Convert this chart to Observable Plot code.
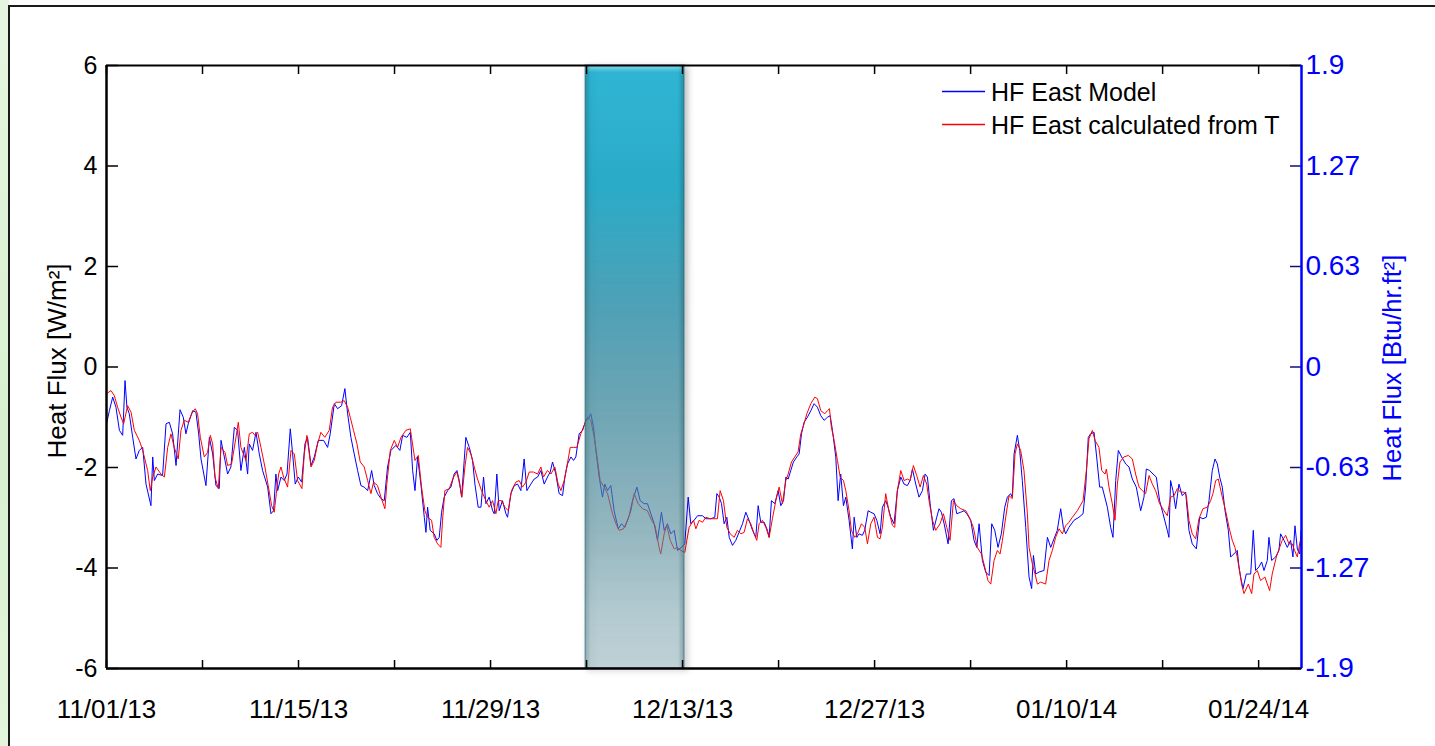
<!DOCTYPE html>
<html>
<head>
<meta charset="utf-8">
<script src="https://cdn.jsdelivr.net/npm/d3@7"></script>
<script src="https://cdn.jsdelivr.net/npm/@observablehq/plot@0.6"></script>
<style>
  html, body { margin: 0; padding: 0; width: 1435px; height: 746px; overflow: hidden; background: #fbfdfa; }
  #bg { position: absolute; left: 0; top: 0; width: 9px; height: 746px; background: linear-gradient(to bottom, #e6f5e0, #d8f0cf 60%, #e3f5dc); }
  #frame { position: absolute; left: 8px; top: 5px; width: 1450px; height: 770px; border-left: 2px solid #1a1a1a; border-top: 2px solid #1a1a1a; background: #ffffff; }
  #chart { position: absolute; left: 0; top: 0; }
</style>
</head>
<body>
<div id="bg"></div>
<div id="frame"></div>
<div id="chart"></div>
<script>
// ---------- data ----------
const seriesNames = ["HF East Model", "HF East calculated from T"];
const seriesColors = ["#0000ff", "#ff0000"];

// [days since 11/01/13, heat flux W/m2]
const modelPoints = [
  [0,-1.13],[0.21,-0.87],[0.45,-0.60],[0.69,-0.80],[0.94,-1.26],[1.18,-1.36],[1.35,-0.27],[1.49,-0.80],[1.66,-0.93],[1.91,-1.40],[2.15,-1.83],[2.39,-1.66],[2.64,-1.60],[2.88,-2.33],[3.24,-2.76],[3.37,-1.79],[3.49,-2.26],[3.73,-2.13],[4.09,-2.16],[4.34,-1.13],[4.58,-1.10],[4.82,-1.33],[5.07,-1.96],[5.36,-0.85],[5.60,-1.00],[5.79,-1.33],[5.96,-1.13],[6.28,-0.87],[6.52,-0.90],[6.72,-1.33],[6.89,-1.83],[7.25,-2.36],[7.50,-1.40],[7.74,-1.73],[7.98,-2.36],[8.22,-2.42],[8.35,-1.46],[8.64,-1.86],[8.83,-2.13],[9.07,-1.99],[9.32,-1.20],[9.56,-1.26],[9.80,-2.06],[10.05,-1.60],[10.29,-2.13],[10.41,-1.53],[10.65,-1.66],[10.90,-1.30],[11.14,-1.73],[11.38,-2.06],[11.75,-2.39],[11.99,-2.92],[12.18,-2.86],[12.35,-2.13],[12.48,-2.46],[12.72,-2.19],[12.96,-2.26],[13.16,-2.13],[13.40,-1.23],[13.57,-1.73],[13.76,-2.33],[13.98,-2.19],[14.23,-2.29],[14.47,-1.53],[14.66,-1.40],[14.91,-1.96],[15.15,-1.79],[15.44,-1.46],[15.83,-1.46],[16.12,-1.60],[16.31,-1.33],[16.61,-0.73],[16.85,-0.83],[17.14,-0.77],[17.38,-0.43],[17.58,-0.93],[17.82,-1.40],[18.06,-1.73],[18.31,-2.06],[18.55,-2.36],[18.79,-2.39],[19.04,-2.46],[19.33,-2.06],[19.52,-2.36],[19.76,-2.52],[20.01,-2.62],[20.25,-2.66],[20.49,-1.99],[20.74,-1.66],[21.10,-1.56],[21.39,-1.66],[21.59,-1.36],[21.90,-1.40],[22.15,-1.30],
  [22.32,-2.06],[22.49,-2.46],[22.68,-1.79],[22.92,-2.33],[23.17,-2.99],[23.29,-3.29],[23.41,-2.79],[23.60,-3.25],[23.89,-3.32],[24.09,-3.45],[24.26,-3.39],[24.43,-2.89],[24.62,-2.59],[24.87,-2.46],[25.11,-2.39],[25.35,-2.13],[25.55,-2.06],[25.72,-2.26],[25.89,-2.59],[26.08,-1.86],[26.20,-1.40],[26.45,-1.60],[26.69,-1.86],[26.86,-2.33],[27.10,-2.79],[27.30,-2.79],[27.49,-2.19],[27.66,-2.72],[27.90,-2.59],[28.15,-2.86],[28.27,-2.92],[28.46,-2.13],[28.63,-2.86],[28.87,-2.66],[29.12,-2.92],[29.24,-2.99],[29.48,-2.52],[29.73,-2.36],[29.97,-2.33],[30.21,-2.46],[30.45,-1.83],[30.65,-2.46],[30.94,-2.33],[31.18,-2.23],[31.43,-2.19],[31.67,-2.06],[31.91,-2.33],[32.15,-2.19],[32.35,-2.09],[32.52,-1.89],[32.76,-2.13],[33.00,-2.52],[33.25,-2.56],[33.42,-2.19],[33.61,-1.93],[33.86,-1.79],[34.05,-1.86],[34.22,-1.79],[34.46,-1.33],[34.71,-1.26],[34.95,-1.06],[35.12,-1.03],[35.31,-0.93],[35.51,-1.20],[35.68,-1.66],[35.92,-2.19],[36.16,-2.59],[36.33,-2.33],[36.53,-2.46],[36.77,-2.36],[37.01,-2.86],[37.31,-3.22],[37.55,-3.12],[37.79,-3.19],[38.11,-2.96],[38.35,-2.66],[38.67,-2.39],[38.91,-2.66],[39.20,-2.72],[39.44,-2.72],[39.69,-2.92],[39.93,-3.12],[40.17,-3.45],[40.46,-2.89],[40.66,-3.25],[40.90,-3.12],[41.14,-3.32],[41.39,-3.25],[41.63,-3.65],[41.92,-3.59],[42.16,-3.52],[42.41,-2.59],[42.60,-3.12],[42.84,-3.05],[43.09,-2.96],[43.45,-2.96],[43.70,-3.02],[44.06,-3.02],[44.35,-2.99],
  [44.50,-2.52],[44.67,-2.59],[44.84,-2.72],[45.03,-3.12],[45.23,-2.99],[45.40,-3.39],[45.64,-3.55],[45.88,-3.45],[46.12,-3.29],[46.37,-3.12],[46.61,-2.89],[46.85,-3.05],[47.10,-3.25],[47.34,-3.39],[47.51,-2.76],[47.70,-3.09],[47.95,-3.09],[48.19,-3.25],[48.31,-3.39],[48.48,-2.66],[48.72,-2.72],[48.97,-2.46],[49.16,-2.76],[49.36,-2.66],[49.53,-2.19],[49.70,-2.23],[49.89,-2.06],[50.08,-1.89],[50.33,-1.79],[50.50,-1.73],[50.67,-1.33],[50.86,-1.10],[51.10,-1.00],[51.35,-0.87],[51.59,-0.73],[51.83,-0.80],[52.08,-0.97],[52.32,-1.06],[52.56,-1.00],[52.76,-0.97],[52.93,-1.26],[53.17,-1.79],[53.34,-2.66],[53.53,-2.13],[53.73,-2.76],[53.90,-2.59],[54.14,-3.05],[54.38,-3.62],[54.51,-2.99],[54.70,-3.39],[54.87,-3.32],[55.11,-3.35],[55.28,-3.25],[55.53,-2.86],[55.72,-2.89],[55.96,-2.92],[56.16,-3.05],[56.40,-3.32],[56.57,-2.79],[56.81,-2.66],[56.98,-2.79],[57.18,-2.99],[57.42,-3.12],[57.66,-2.46],[57.91,-2.19],[58.15,-2.33],[58.39,-2.36],[58.59,-2.26],[58.76,-2.03],[59.00,-2.33],[59.24,-2.59],[59.49,-2.46],[59.68,-2.13],[59.85,-2.19],[60.05,-2.72],[60.29,-3.25],[60.53,-2.99],[60.70,-2.82],[60.87,-2.89],[61.07,-3.12],[61.36,-3.52],[61.60,-2.66],[61.79,-2.62],[61.99,-2.92],[62.28,-2.89],[62.52,-2.86],[62.72,-2.92],[63.01,-3.05],[63.25,-3.45],[63.45,-3.59],[63.62,-3.12],[63.86,-3.85],[64.10,-4.08],[64.35,-4.15],[64.54,-3.12],[64.76,-3.25],[65.00,-3.59],[65.24,-3.32],[65.49,-2.79],[65.68,-2.59],[65.92,-2.52],
  [66.04,-2.59],[66.17,-1.73],[66.41,-1.36],[66.58,-1.66],[66.77,-2.26],[67.02,-3.19],[67.26,-4.18],[67.45,-4.41],[67.58,-3.75],[67.75,-4.12],[67.99,-4.08],[68.35,-4.05],[68.60,-3.39],[68.84,-3.59],[69.08,-3.42],[69.32,-3.25],[69.57,-2.82],[69.76,-3.19],[69.93,-3.32],[70.17,-3.19],[70.54,-3.05],[70.90,-2.99],[71.20,-2.92],[71.39,-2.39],[71.58,-1.40],[71.75,-1.33],[72.00,-1.30],[72.19,-1.79],[72.41,-2.39],[72.60,-2.39],[72.97,-2.79],[73.21,-3.19],[73.38,-3.39],[73.58,-2.26],[73.77,-1.66],[74.01,-1.79],[74.31,-1.93],[74.55,-1.99],[74.79,-2.23],[75.08,-2.39],[75.40,-2.86],[75.64,-2.59],[75.81,-2.03],[76.05,-2.06],[76.30,-2.13],[76.54,-2.19],[76.78,-2.66],[77.03,-2.92],[77.34,-3.25],[77.46,-3.39],[77.58,-2.26],[77.75,-2.46],[77.95,-2.82],[78.19,-2.33],[78.43,-2.56],[78.68,-2.49],[78.92,-3.25],[79.16,-3.52],[79.46,-3.62],[79.70,-2.99],[79.94,-3.02],[80.19,-2.99],[80.38,-2.66],[80.62,-2.06],[80.82,-1.83],[80.99,-1.93],[81.16,-2.19],[81.35,-2.39],[81.55,-2.86],[81.79,-3.25],[81.96,-3.78],[82.20,-3.72],[82.44,-3.65],[82.57,-3.98],[82.69,-4.18],[82.86,-4.41],[83.10,-4.12],[83.42,-4.12],[83.61,-3.25],[83.78,-4.05],[84.02,-3.98],[84.22,-3.88],[84.39,-4.05],[84.63,-3.85],[84.75,-3.39],[84.95,-3.85],[85.24,-3.78],[85.48,-3.65],[85.60,-3.32],[85.85,-3.45],[86.09,-3.59],[86.33,-3.45],[86.50,-3.78],[86.65,-3.16],[86.82,-3.62],[86.99,-3.72],[87.10,-3.25]
];

const calcPoints = [
  [0,-0.53],[0.33,-0.47],[0.57,-0.57],[0.81,-0.80],[1.06,-1.00],[1.25,-1.13],[1.54,-0.77],[1.79,-0.90],[2.03,-1.26],[2.39,-1.46],[2.64,-1.66],[3.00,-2.06],[3.19,-2.46],[3.37,-2.19],[3.61,-1.99],[3.97,-2.13],[4.22,-2.19],[4.46,-1.60],[4.70,-1.33],[4.94,-1.60],[5.23,-1.83],[5.43,-1.26],[5.67,-1.06],[5.96,-1.10],[6.21,-0.93],[6.47,-0.83],[6.64,-0.93],[6.84,-1.40],[7.13,-1.79],[7.37,-1.70],[7.57,-1.36],[7.74,-1.53],[7.91,-2.19],[8.15,-2.42],[8.35,-1.60],[8.64,-1.70],[8.83,-1.96],[9.12,-1.93],[9.44,-1.40],[9.61,-1.10],[9.80,-1.60],[10.17,-1.86],[10.41,-1.33],[10.65,-1.30],[10.82,-1.36],[11.02,-1.30],[11.26,-1.60],[11.55,-1.99],[11.79,-2.36],[12.04,-2.76],[12.23,-2.89],[12.38,-2.52],[12.55,-2.13],[12.72,-1.99],[12.91,-2.19],[13.20,-2.39],[13.45,-1.66],[13.69,-1.73],[13.93,-2.26],[14.25,-2.42],[14.42,-1.73],[14.61,-1.36],[14.91,-1.99],[15.15,-1.86],[15.39,-1.53],[15.63,-1.30],[15.92,-1.40],[16.24,-1.26],[16.48,-0.80],[16.73,-0.70],[17.09,-0.70],[17.33,-0.67],[17.58,-0.80],[17.77,-1.00],[18.01,-1.26],[18.26,-1.53],[18.50,-1.89],[18.79,-1.99],[19.04,-2.26],[19.28,-2.52],[19.47,-2.29],[19.76,-2.36],[20.01,-2.59],[20.30,-2.82],[20.44,-2.32],[20.69,-1.66],[20.98,-1.46],[21.22,-1.60],[21.47,-1.40],[21.83,-1.26],[22.15,-1.23],
  [22.24,-1.40],[22.49,-1.86],[22.73,-1.76],[22.97,-2.39],[23.21,-2.86],[23.41,-2.99],[23.70,-3.05],[23.89,-3.39],[24.14,-3.52],[24.38,-3.59],[24.50,-3.05],[24.67,-2.46],[24.99,-2.42],[25.30,-2.19],[25.55,-2.09],[25.79,-2.39],[25.91,-2.59],[26.13,-1.99],[26.32,-1.60],[26.57,-1.73],[26.81,-1.99],[27.05,-2.23],[27.34,-2.46],[27.66,-2.66],[27.90,-2.79],[28.15,-2.66],[28.39,-2.92],[28.56,-2.66],[28.80,-2.66],[29.05,-2.79],[29.29,-2.86],[29.53,-2.46],[29.85,-2.29],[30.09,-2.26],[30.33,-2.39],[30.58,-2.29],[30.82,-2.09],[31.13,-2.09],[31.43,-2.13],[31.67,-1.99],[31.86,-2.19],[32.15,-2.06],[32.40,-2.13],[32.69,-1.99],[32.93,-2.33],[33.13,-2.46],[33.37,-2.26],[33.56,-1.99],[33.81,-1.60],[34.05,-1.60],[34.29,-1.60],[34.58,-1.33],[34.83,-1.16],[35.07,-1.00],[35.31,-1.06],[35.56,-1.40],[35.80,-1.86],[35.99,-2.26],[36.28,-2.39],[36.53,-2.52],[36.89,-2.92],[37.14,-3.12],[37.38,-3.25],[37.69,-3.22],[37.99,-3.05],[38.23,-2.86],[38.47,-2.52],[38.76,-2.72],[39.08,-2.82],[39.44,-2.86],[39.74,-3.05],[39.98,-3.15],[40.29,-3.59],[40.41,-3.72],[40.66,-3.32],[40.85,-3.15],[41.10,-3.45],[41.39,-3.62],[41.63,-3.59],[41.87,-3.65],[42.16,-3.69],[42.31,-3.45],[42.48,-3.19],[42.80,-3.05],[42.97,-3.22],[43.21,-3.05],[43.45,-3.09],[43.70,-2.99],[44.01,-3.02],
  [44.54,-3.02],[44.74,-2.46],[44.98,-2.66],[45.23,-3.19],[45.47,-3.32],[45.76,-3.39],[46.00,-3.25],[46.25,-3.32],[46.49,-3.29],[46.73,-3.02],[46.97,-3.12],[47.22,-3.32],[47.41,-3.45],[47.58,-3.12],[47.82,-3.05],[48.07,-3.19],[48.31,-3.39],[48.55,-3.02],[48.80,-2.66],[49.04,-2.39],[49.28,-2.72],[49.53,-2.26],[49.70,-2.13],[49.94,-1.89],[50.18,-1.79],[50.42,-1.69],[50.62,-1.33],[50.86,-1.13],[51.06,-0.93],[51.35,-0.73],[51.64,-0.60],[51.83,-0.63],[52.08,-0.87],[52.37,-0.93],[52.56,-0.87],[52.71,-0.83],[52.85,-1.20],[53.05,-1.46],[53.29,-1.86],[53.49,-2.19],[53.73,-2.26],[53.90,-2.46],[54.14,-2.86],[54.31,-3.25],[54.55,-3.39],[54.75,-3.32],[55.04,-3.12],[55.28,-3.19],[55.48,-3.52],[55.72,-3.12],[55.96,-2.99],[56.21,-3.39],[56.40,-3.42],[56.57,-3.19],[56.81,-2.52],[57.06,-2.89],[57.30,-3.15],[57.47,-3.19],[57.66,-2.46],[57.91,-2.06],[58.15,-2.26],[58.39,-2.23],[58.59,-2.26],[58.83,-1.96],[59.07,-2.16],[59.32,-2.39],[59.56,-2.16],[59.80,-2.33],[59.97,-2.66],[60.22,-3.05],[60.46,-3.25],[60.77,-3.12],[61.02,-2.92],[61.26,-3.19],[61.50,-3.45],[61.75,-2.66],[61.99,-2.76],[62.28,-2.82],[62.65,-2.86],[62.96,-3.02],[63.20,-3.19],[63.49,-3.59],[63.79,-3.72],[64.03,-3.98],[64.27,-4.25],[64.47,-4.32],[64.71,-3.85],[64.95,-3.65],[65.15,-3.72],[65.32,-3.45],[65.56,-2.99],[65.80,-2.56],
  [66.04,-2.62],[66.24,-1.73],[66.41,-1.53],[66.65,-1.66],[66.89,-2.06],[67.14,-2.92],[67.26,-3.59],[67.50,-3.92],[67.70,-4.12],[67.87,-4.32],[68.11,-4.28],[68.47,-4.32],[68.72,-3.85],[68.96,-3.65],[69.20,-3.39],[69.45,-3.22],[69.69,-3.32],[69.93,-3.16],[70.17,-3.09],[70.42,-2.99],[70.78,-2.86],[71.20,-2.66],[71.44,-2.06],[71.63,-1.43],[71.88,-1.26],[72.07,-1.46],[72.36,-1.60],[72.56,-2.06],[72.80,-2.13],[72.90,-2.03],[73.09,-2.39],[73.33,-2.72],[73.53,-3.05],[73.70,-2.33],[73.89,-1.89],[74.18,-1.79],[74.50,-1.76],[74.79,-1.83],[75.03,-2.13],[75.28,-2.39],[75.52,-2.46],[75.76,-2.52],[76.01,-2.16],[76.25,-2.33],[76.49,-2.46],[76.78,-2.72],[77.10,-2.86],[77.34,-2.96],[77.58,-2.59],[77.83,-2.56],[78.07,-2.42],[78.31,-2.49],[78.56,-2.49],[78.73,-2.56],[78.92,-3.05],[79.16,-3.32],[79.41,-3.42],[79.65,-3.02],[79.94,-2.82],[80.26,-2.79],[80.50,-2.66],[80.67,-2.52],[80.87,-2.26],[81.06,-2.23],[81.35,-2.59],[81.59,-2.86],[81.84,-3.19],[82.08,-3.45],[82.27,-3.59],[82.44,-3.78],[82.76,-4.32],[82.93,-4.51],[83.25,-4.32],[83.49,-4.51],[83.66,-4.12],[83.90,-4.05],[84.14,-4.25],[84.46,-4.18],[84.80,-4.45],[84.99,-4.12],[85.29,-3.78],[85.53,-3.59],[85.72,-3.45],[85.97,-3.35],[86.21,-3.52],[86.45,-3.52],[86.62,-3.65],[86.82,-3.78],[86.99,-3.52],[87.10,-3.39]
];

const seriesStart = "2013-11-01";
const xDomain = ["2013-11-01T00:00Z", "2014-01-27T03:00Z"];
const xTickDates = ["2013-11-01","2013-11-08","2013-11-15","2013-11-22","2013-11-29","2013-12-06","2013-12-13","2013-12-20","2013-12-27","2014-01-03","2014-01-10","2014-01-17","2014-01-24"];
const xTickLabels = ["11/01/13","","11/15/13","","11/29/13","","12/13/13","","12/27/13","","01/10/14","","01/24/14"];
const yTicks = [-6, -4, -2, 0, 2, 4, 6];
const rightTickLabels = ["-1.9", "-1.27", "-0.63", "0", "0.63", "1.27", "1.9"];
const leftTitle = "Heat Flux [W/m²]";
const rightTitle = "Heat Flux [Btu/hr.ft²]";
const shadeStart = "2013-12-06";
const shadeEnd = "2013-12-13";

// ---------- build ----------
const t0 = +new Date(seriesStart);
const toRows = pts => pts.map(([d, v]) => ({date: new Date(t0 + d * 864e5), flux: v}));
const model = toRows(modelPoints);
const calc = toRows(calcPoints);
const xTicks = xTickDates.map(s => new Date(s));
const labelOf = new Map(xTicks.map((d, i) => [+d, xTickLabels[i]]));
const rightOf = new Map(yTicks.map((v, i) => [v, rightTickLabels[i]]));
const yLo = yTicks[0], yHi = yTicks[yTicks.length - 1];
const shade = [{start: new Date(shadeStart), end: new Date(shadeEnd), lo: yLo, hi: yHi}];
const xEnds = xDomain.map(s => new Date(s));

const FONT = "'Liberation Sans', Arial, Helvetica, sans-serif";

const chart = Plot.plot({
  width: 1435,
  height: 746,
  marginLeft: 106,
  marginRight: 134,
  marginTop: 65,
  marginBottom: 78,
  style: {background: "transparent", fontFamily: FONT, color: "#000", overflow: "visible"},
  x: {type: "utc", domain: xEnds, label: null},
  y: {domain: [yLo, yHi], label: null},
  marks: [
    Plot.lineY(model, {x: "date", y: "flux", stroke: seriesColors[0], strokeWidth: 1}),
    Plot.lineY(calc, {x: "date", y: "flux", stroke: seriesColors[1], strokeWidth: 1}),
    Plot.rect(shade, {x1: "start", x2: "end", y1: "lo", y2: "hi", insetLeft: -1, insetRight: -2, fill: "url(#shadeV)", stroke: "#3d7f8d", strokeOpacity: 0.5, strokeWidth: 1.5}),
    Plot.rect(shade, {x1: "start", x2: "end", y1: "lo", y2: "hi", insetLeft: -1, insetRight: -2, fill: "url(#shadeH)"}),
    // ticks (inward, MATLAB style)
    Plot.axisX(xTicks, {anchor: "bottom", tickSize: -8, tickFormat: () => "", strokeWidth: 1.5, label: null}),
    Plot.axisX(xTicks, {anchor: "top", tickSize: -8, tickFormat: () => "", strokeWidth: 1.5, label: null}),
    Plot.axisY(yTicks, {anchor: "left", tickSize: -12, tickFormat: () => "", strokeWidth: 1.5, label: null}),
    Plot.axisY(yTicks, {anchor: "right", tickSize: -12, tickFormat: () => "", stroke: "#101070", strokeWidth: 1.5, label: null}),
    // tick labels
    Plot.axisX(xTicks, {anchor: "bottom", tickSize: 0, tickPadding: 31, tickFormat: d => labelOf.get(+d) ?? "", fontSize: 26, label: null}),
    Plot.axisY(yTicks, {anchor: "left", tickSize: 0, tickPadding: 9, tickFormat: d => String(d), fontSize: 25, label: null}),
    Plot.axisY(yTicks, {anchor: "right", tickSize: 0, tickPadding: 4, tickFormat: d => rightOf.get(d), fill: "#0000ff", fontSize: 28, label: null}),
    // frame
    Plot.ruleY([yHi], {stroke: "#000", strokeWidth: 2}),
    Plot.ruleY([yLo], {stroke: "#000", strokeWidth: 2.5}),
    Plot.ruleX([xEnds[0]], {stroke: "#000", strokeWidth: 2.5}),
    Plot.ruleX([xEnds[1]], {stroke: "#0000ff", strokeWidth: 2.5}),
    // axis titles
    Plot.text([leftTitle], {text: d => d, frameAnchor: "left", textAnchor: "middle", lineAnchor: "middle", dx: -49, dy: -6, rotate: -90, fontSize: 26, fill: "#000"}),
    Plot.text([rightTitle], {text: d => d, frameAnchor: "right", textAnchor: "middle", lineAnchor: "middle", dx: 91, dy: 1, rotate: -90, fontSize: 25.5, fill: "#0000ff"})
  ]
});

document.getElementById("chart").appendChild(chart);

// gradients for the shaded period
const svg = d3.select(chart);
const defs = svg.insert("defs", ":first-child");
const gv = defs.append("linearGradient").attr("id", "shadeV").attr("x1", 0).attr("y1", 0).attr("x2", 0).attr("y2", 1);
[
  [0, "#8adcee", 1],
  [0.012, "#2ab4d3", 0.97],
  [0.2, "#22aac8", 0.95],
  [0.4, "#3a9ab3", 0.86],
  [0.58, "#4995a9", 0.72],
  [0.78, "#5a98a8", 0.55],
  [0.92, "#8ab7c3", 0.5],
  [1, "#b0ccd4", 0.62]
].forEach(([o, c, a]) => gv.append("stop").attr("offset", o).attr("stop-color", c).attr("stop-opacity", a));
const gh = defs.append("linearGradient").attr("id", "shadeH").attr("x1", 0).attr("y1", 0).attr("x2", 1).attr("y2", 0);
[
  [0, "#0d3d48", 0.3],
  [0.06, "#0d3d48", 0.0],
  [0.94, "#0d3d48", 0.0],
  [1, "#0d3d48", 0.3]
].forEach(([o, c, a]) => gh.append("stop").attr("offset", o).attr("stop-color", c).attr("stop-opacity", a));
svg.selectAll("g[aria-label=rect]").style("filter", "drop-shadow(3px 2px 3px rgba(0,0,0,0.25))");

// legend inside the plot (top-right)
const lx = 1435 - 134 - 359;
const leg = svg.append("g").attr("font-family", FONT).attr("font-size", 25).attr("text-anchor", "start");
seriesNames.forEach((name, i) => {
  const y = Math.round(65 + 26 + i * 32.5) + 0.5;
  leg.append("path").attr("d", `M${lx},${y}H${lx + 43}`)
    .attr("fill", "none").attr("stroke", seriesColors[i]).attr("stroke-width", 1.3);
  leg.append("text").attr("x", lx + 49).attr("y", y).attr("dy", "0.36em").attr("fill", "#000").text(name);
});
</script>
</body>
</html>
